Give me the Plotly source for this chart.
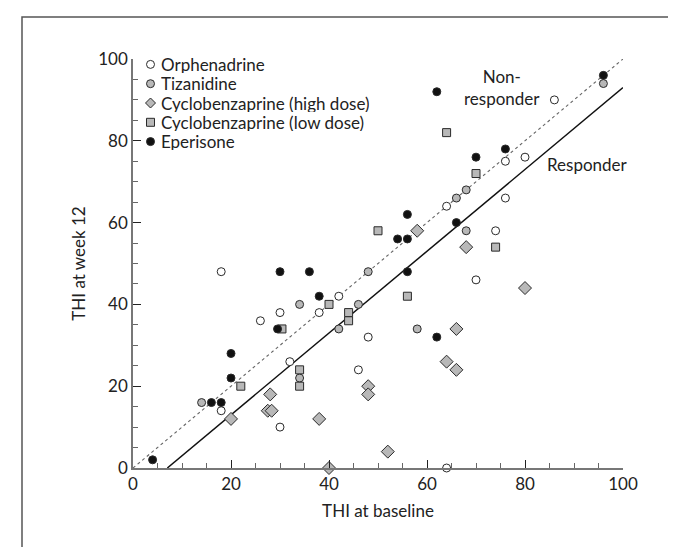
import plotly.graph_objects as go

# ---- data (THI at baseline, THI at week 12) ----
orph_x = [18, 64, 86, 76, 80, 76, 74, 70, 42, 38, 48, 32, 46, 30, 26, 30, 18, 64]
orph_y = [48, 64, 90, 75, 76, 66, 58, 46, 42, 38, 32, 26, 24, 38, 36, 10, 14, 0]

tiz_x = [96, 66, 68, 68, 48, 34, 46, 42, 58, 34, 14]
tiz_y = [94, 66, 68, 58, 48, 40, 40, 34, 34, 22, 16]

cyh_x = [58, 68, 80, 66, 66, 64, 48, 48, 38, 28, 27.5, 28.3, 20, 52, 40]
cyh_y = [58, 54, 44, 34, 24, 26, 20, 18, 12, 18, 14, 14, 12, 4, 0]

cyl_x = [50, 56, 64, 70, 74, 40, 44, 44, 34, 34, 30.4, 22]
cyl_y = [58, 42, 82, 72, 54, 40, 38, 36, 24, 20, 34, 20]

epe_x = [30, 36, 56, 54, 56, 66, 56, 38, 96, 76, 70, 62, 62, 29.5, 20, 20, 16, 18, 4]
epe_y = [48, 48, 62, 56, 56, 60, 48, 42, 96, 78, 76, 92, 32, 34, 28, 22, 16, 16, 2]

identity_x = [0, 100]
identity_y = [0, 100]
responder_x = [7, 100]
responder_y = [0, 93]

x_ticks = [0, 20, 40, 60, 80, 100]
y_ticks = [0, 20, 40, 60, 80, 100]

series_names = ["Orphenadrine", "Tizanidine", "Cyclobenzaprine (high dose)",
                "Cyclobenzaprine (low dose)", "Eperisone"]

FONT = "Lato, Open Sans, sans-serif"
FS = 17
EDGE = "#2a2a2a"
GRAY = "#b8b8b8"

styles = [("circle", "white", 8), ("circle", GRAY, 8), ("diamond", GRAY, 10),
          ("square", GRAY, 8), ("circle", "#111", 8)]
series = [(orph_x, orph_y), (tiz_x, tiz_y), (cyh_x, cyh_y), (cyl_x, cyl_y), (epe_x, epe_y)]

fig = go.Figure()

fig.add_trace(go.Scatter(x=identity_x, y=identity_y, mode="lines",
                         line=dict(color="#666", width=1.1, dash="dot"),
                         showlegend=False, hoverinfo="skip"))
fig.add_trace(go.Scatter(x=responder_x, y=responder_y, mode="lines",
                         line=dict(color="#111", width=1.5),
                         showlegend=False, hoverinfo="skip"))

for name, (xs, ys), (sym, fill, size) in zip(series_names, series, styles):
    fig.add_trace(go.Scatter(
        x=xs, y=ys, mode="markers", name=name, cliponaxis=False, showlegend=False,
        marker=dict(symbol=sym, color=fill, size=size,
                    line=dict(color=EDGE, width=1))))

# ---- custom compact legend (paper coordinates) ----
PLOT_L, PLOT_W = 125, 490
PLOT_B, PLOT_H = 460, 409
def px_x(p):
    return (p - PLOT_L) / PLOT_W
def px_y(p):
    return (PLOT_B - p) / PLOT_H

leg_marker_x = px_x(142.5)
leg_text_x = px_x(152)
leg_rows = [56.4, 75.7, 95.0, 114.3, 133.6]
for name, (sym, fill, size), row in zip(series_names, styles, leg_rows):
    yy = px_y(row)
    r = size / 2
    common = dict(xref="paper", yref="paper", xsizemode="pixel", ysizemode="pixel",
                  xanchor=leg_marker_x, yanchor=yy, fillcolor=fill,
                  line=dict(color=EDGE, width=1))
    if sym == "circle":
        fig.add_shape(type="circle", x0=-r, x1=r, y0=-r, y1=r, **common)
    elif sym == "square":
        fig.add_shape(type="rect", x0=-r, x1=r, y0=-r, y1=r, **common)
    else:
        fig.add_shape(type="path", path=f"M {-r} 0 L 0 {r} L {r} 0 L 0 {-r} Z", **common)
    fig.add_annotation(xref="paper", yref="paper", x=leg_text_x, y=yy, text=name,
                       showarrow=False, xanchor="left", yanchor="middle",
                       height=17, borderpad=0, valign="middle",
                       font=dict(size=FS, color="#222", family=FONT))

fig.add_annotation(x=75.3, y=93, text="Non-<br>responder", showarrow=False,
                   align="center", font=dict(size=FS, color="#222", family=FONT))
fig.add_annotation(x=84, y=74.3, text="Responder", showarrow=False,
                   xanchor="left", font=dict(size=FS, color="#222", family=FONT))

# outer frame
fig.add_shape(type="rect", xref="paper", yref="paper",
              x0=px_x(14), x1=px_x(664), y0=px_y(552), y1=px_y(9),
              line=dict(color="#555", width=1.5), fillcolor="rgba(0,0,0,0)")

axis_common = dict(
    range=[0, 100], showgrid=False, zeroline=False,
    showline=True, linecolor="#777", linewidth=1.5,
    ticks="inside", ticklen=8, tickwidth=1.2, tickcolor="#222",
    minor=dict(dtick=5, ticks="inside", ticklen=5, tickwidth=1, tickcolor="#666"),
    tickfont=dict(size=FS, color="#222", family=FONT),
)

fig.update_layout(
    width=676, height=547,
    margin=dict(l=125, r=61, t=51, b=87),
    paper_bgcolor="white", plot_bgcolor="white",
    font=dict(family=FONT, size=FS, color="#222"),
    xaxis=dict(axis_common, tickvals=x_ticks,
               title=dict(text="THI at baseline", font=dict(size=FS), standoff=12)),
    yaxis=dict(axis_common, tickvals=y_ticks,
               title=dict(text="THI at week 12", font=dict(size=FS), standoff=8)),
    showlegend=False,
)

fig.write_html("out.html")
